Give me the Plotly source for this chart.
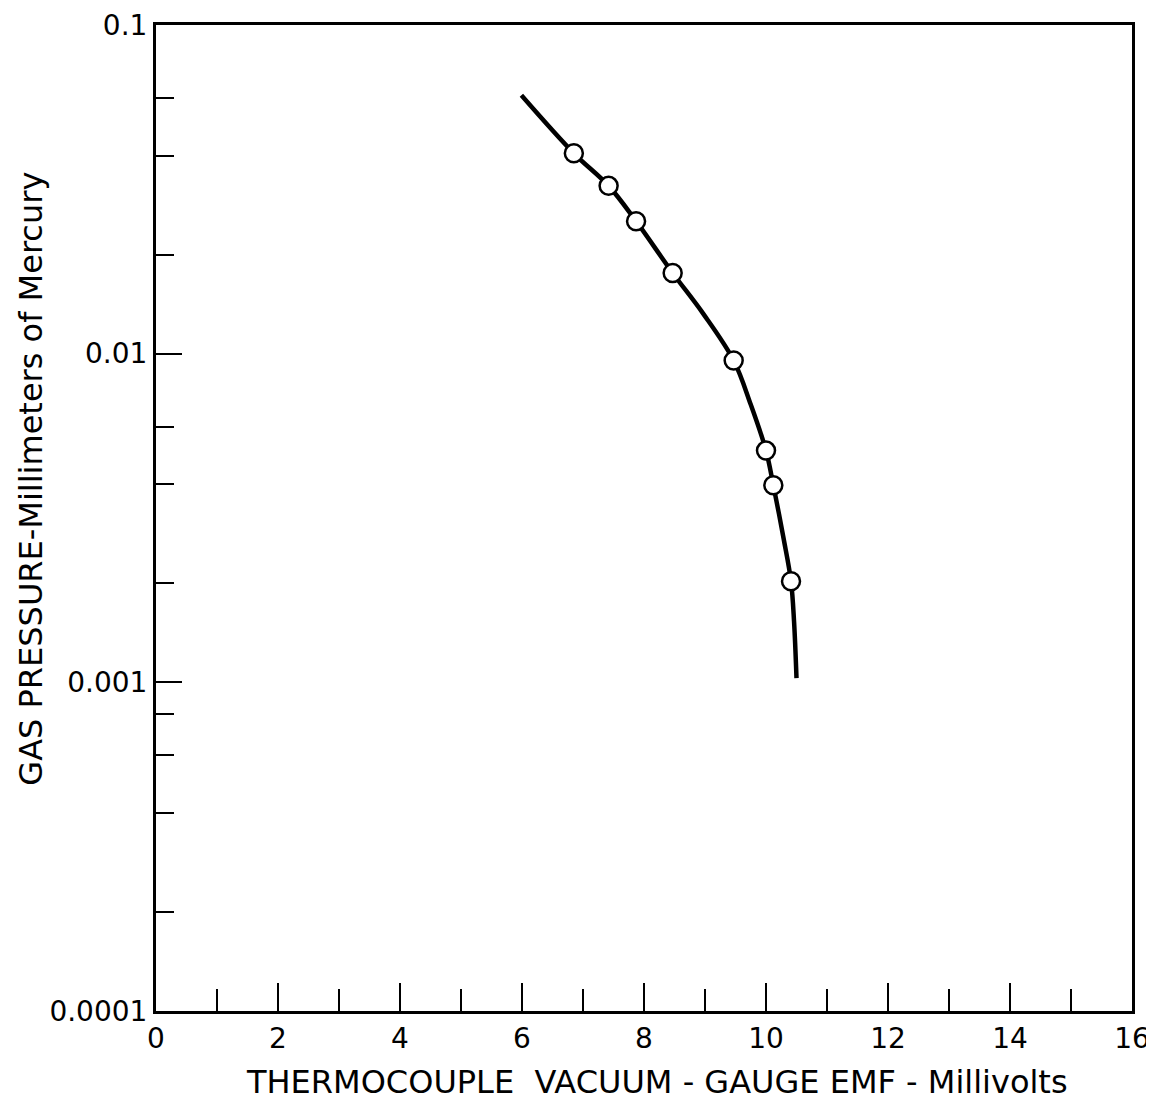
import plotly.graph_objects as go

# measured points (open circles)
emf_points = [6.85, 7.42, 7.87, 8.47, 9.47, 10.0, 10.12, 10.41]
pressure_points = [0.0407, 0.0324, 0.0253, 0.0176, 0.00953, 0.00507, 0.00398, 0.00203]

# smooth calibration curve
emf_curve = [5.99, 6.85, 7.42, 7.87, 8.47, 8.97, 9.47, 9.75, 10.0, 10.12, 10.29, 10.41, 10.46, 10.5]
pressure_curve = [0.0611, 0.0407, 0.0324, 0.0253, 0.0176, 0.01324, 0.00953,
                  0.0070, 0.00507, 0.00398, 0.00273, 0.00203, 0.00153, 0.00103]

y_major = [0.0001, 0.001, 0.01, 0.1]
y_major_text = ["0.0001", "0.001", "0.01", "0.1"]
y_minor = [0.0002, 0.0004, 0.0006, 0.0008, 0.002, 0.004, 0.006, 0.02, 0.04, 0.06]

font_name = "DejaVu Sans"

fig = go.Figure()

# curve
fig.add_trace(go.Scatter(
    x=emf_curve, y=pressure_curve, mode="lines",
    line=dict(color="black", width=4.5, shape="spline", smoothing=1.0),
    hoverinfo="skip",
))

# data points
fig.add_trace(go.Scatter(
    x=emf_points, y=pressure_points, mode="markers",
    marker=dict(symbol="circle", size=18, color="white",
                line=dict(color="black", width=2.5)),
))

fig.update_xaxes(
    range=[0, 16], dtick=2, tick0=0,
    ticks="inside", ticklen=28, tickwidth=2, tickcolor="black",
    minor=dict(dtick=1, ticks="inside", ticklen=22, tickwidth=2, tickcolor="black"),
    showline=True, linecolor="black", linewidth=3, mirror=True,
    showgrid=False, zeroline=False, automargin=False,
    ticklabeloverflow="allow",
    tickfont=dict(family=font_name, size=28, color="black"),
)

fig.update_yaxes(
    type="log", range=[-4, -1],
    tickvals=y_major, ticktext=y_major_text,
    ticks="inside", ticklen=26, tickwidth=2, tickcolor="black",
    minor=dict(tickvals=y_minor, ticks="inside", ticklen=18, tickwidth=2, tickcolor="black"),
    showline=True, linecolor="black", linewidth=3, mirror=True,
    showgrid=False, zeroline=False, automargin=False,
    ticklabeloverflow="allow",
    tickfont=dict(family=font_name, size=28, color="black"),
)

# axis titles as annotations so they can sit where the original puts them
fig.add_annotation(
    text="THERMOCOUPLE  VACUUM - GAUGE EMF - Millivolts",
    xref="paper", yref="paper", x=0.513, y=-0.0725,
    showarrow=False, xanchor="center", yanchor="middle",
    font=dict(family=font_name, size=32, color="black"),
)
fig.add_annotation(
    text="GAS PRESSURE-Millimeters of Mercury",
    xref="paper", yref="paper", x=-0.129, y=0.54, textangle=-90,
    showarrow=False, xanchor="center", yanchor="middle",
    font=dict(family=font_name, size=32, color="black"),
)

# the page body adds an 8px margin, so the figure is a little smaller than the window
fig.update_layout(
    width=1146, height=1093,
    margin=dict(l=148, r=22, t=17, b=90),
    plot_bgcolor="white", paper_bgcolor="white",
    showlegend=False,
)

fig.write_html("out.html")
